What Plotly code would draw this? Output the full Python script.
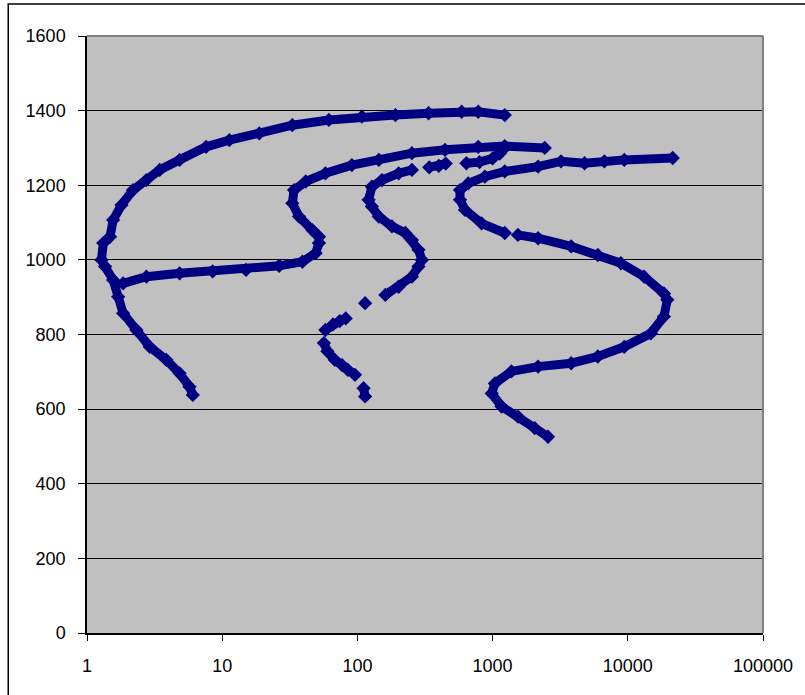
import plotly.graph_objects as go

# Tick labels
x_tick_vals = [1, 10, 100, 1000, 10000, 100000]
x_tick_text = ["1", "10", "100", "1000", "10000", "100000"]
y_tick_vals = [0, 200, 400, 600, 800, 1000, 1200, 1400, 1600]

# Series A (left C-shaped curve)
a_x = [6.06, 5.73, 4.84, 3.86, 2.91, 2.32, 1.85, 1.7, 1.56, 1.36, 1.28, 1.32, 1.48, 1.56, 1.8, 2.19,
       2.75, 3.45, 4.84, 7.6, 11.3, 18.8, 33, 61.5, 108, 191, 336, 590, 783, 1230]
a_y = [638, 660, 696, 732, 767, 812, 857, 901, 946, 982, 1000, 1045, 1062, 1107, 1147, 1187,
       1214, 1241, 1268, 1303, 1321, 1339, 1361, 1375, 1384, 1388, 1393, 1397, 1397, 1388]

# Series B
b_x = [1.85, 2.75, 4.84, 8.5, 15, 26.4, 39.2, 49.1, 52, 52, 46.4, 37, 33, 34, 41.5, 58, 91, 144,
       253, 445, 783, 1230, 2430]
b_y = [937, 955, 964, 969, 973, 984, 995, 1018, 1045, 1062, 1080, 1116, 1152, 1187, 1210, 1232,
       1254, 1268, 1286, 1295, 1303, 1305, 1300]

# Series C (broken curve)
c_x = [114, 111, None, 96, 85, 77, 68, 60, 56.5, None, 58, 66, 74, 82, None, 114, None,
       161, 202, 253, 283, 300, 283, 253, 226, 180, 144, 128, 121, 128, 152, 202, 253, None,
       340, 400, 450, None, 640, 800, 1000, 1130, 1230]
c_y = [634, 656, None, 692, 705, 718, 732, 755, 777, None, 812, 827, 836, 843, None, 884, None,
       906, 928, 955, 982, 1000, 1027, 1053, 1072, 1090, 1116, 1143, 1161, 1196, 1214, 1232, 1241, None,
       1248, 1252, 1258, None, 1259, 1262, 1272, 1285, 1300]

# Series D (right S-shaped curve)
d_x = [2570, 2050, 1540, 1165, 985, 1040, 1377, 2170, 3810, 6000, 9420, 14800, 18500, 19600,
       18500, 13200, 8890, 6000, 3810, 2170, 1540, None, 1230, 828, 625, 574, 574, 660, 877, 1230,
       2170, 3210, 4790, 6710, 9420, 21500]
d_y = [526, 549, 580, 607, 642, 669, 701, 714, 723, 741, 767, 803, 848, 893,
       910, 955, 991, 1013, 1036, 1058, 1067, None, 1072, 1098, 1134, 1161, 1187, 1205, 1223, 1237,
       1250, 1264, 1259, 1264, 1268, 1273]

series = [("Series A", a_x, a_y), ("Series B", b_x, b_y), ("Series C", c_x, c_y), ("Series D", d_x, d_y)]

navy = "#000080"
fig = go.Figure()
for name, xs, ys in series:
    fig.add_trace(go.Scatter(
        x=xs, y=ys, name=name, mode="lines+markers",
        line=dict(color=navy, width=9),
        marker=dict(symbol="diamond", size=11, color=navy),
        connectgaps=False, showlegend=False,
    ))

font = dict(family="Arial, Liberation Sans, sans-serif", size=18, color="black")

fig.update_layout(
    width=805, height=695,
    margin=dict(l=87, r=37, t=36, b=62),
    paper_bgcolor="white",
    plot_bgcolor="#C0C0C0",
    font=font,
    xaxis=dict(
        type="log", range=[0, 5],
        tickvals=x_tick_vals, ticktext=x_tick_text,
        showgrid=False, zeroline=False,
        showline=True, linecolor="black", linewidth=1.5,
        ticks="outside", ticklen=6, tickcolor="black",
        ticklabelstandoff=10,
    ),
    yaxis=dict(
        range=[0, 1600], tickvals=y_tick_vals,
        showgrid=True, gridcolor="black", gridwidth=1,
        zeroline=False,
        showline=True, linecolor="black", linewidth=1.5,
        ticks="outside", ticklen=7, tickcolor="black",
        ticklabelstandoff=9,
    ),
    shapes=[
        # plot-area border (top and right, gray)
        dict(type="line", xref="paper", yref="paper", x0=0, x1=1, y0=1, y1=1,
             line=dict(color="#808080", width=2)),
        dict(type="line", xref="paper", yref="paper", x0=1, x1=1, y0=0, y1=1,
             line=dict(color="#808080", width=2)),
        # chart-area outer border (right/bottom edges fall outside the page)
        dict(type="rect", xref="paper", yref="paper",
             x0=-0.1165, x1=1.25, y0=1.0536, y1=-0.3,
             line=dict(color="black", width=1.5), fillcolor="rgba(0,0,0,0)"),
    ],
)

fig.write_html("out.html")
